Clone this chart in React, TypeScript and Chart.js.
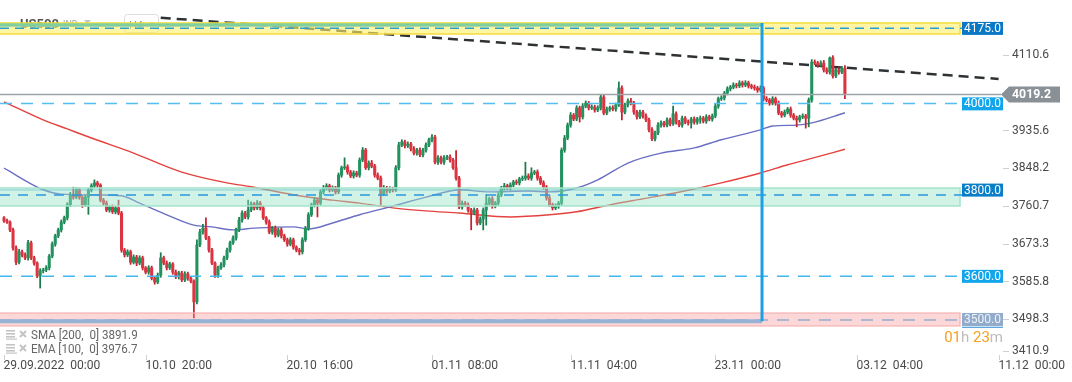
import React, { useEffect, useRef } from 'react';
import { Chart, registerables } from 'chart.js';

Chart.register(...registerables);
Chart.defaults.font.family = 'Roboto';

// ---- candle data (H4, US500) ----
const firstOpen = 3733;
const closes = [
  3726, 3723, 3705, 3663, 3630, 3654, 3647, 3640, 3675, 3640,
  3628, 3598, 3610, 3612, 3617, 3644, 3672, 3691, 3705, 3723,
  3733, 3763, 3786, 3781, 3798, 3781, 3763, 3781, 3798, 3807,
  3814, 3809, 3774, 3767, 3751, 3758, 3747, 3756, 3744, 3658,
  3647, 3654, 3630, 3642, 3628, 3640, 3617, 3607, 3617, 3593,
  3584, 3600, 3640, 3628, 3617, 3626, 3607, 3596, 3605, 3589,
  3603, 3593, 3586, 3538, 3670, 3700, 3709, 3686, 3658, 3628,
  3600, 3617, 3624, 3640, 3658, 3675, 3686, 3705, 3728, 3744,
  3735, 3751, 3765, 3756, 3767, 3756, 3733, 3723, 3700, 3709,
  3693, 3705, 3691, 3682, 3672, 3682, 3665, 3658, 3654, 3682,
  3709, 3740, 3763, 3774, 3767, 3793, 3802, 3807, 3798, 3802,
  3793, 3832, 3849, 3851, 3839, 3830, 3837, 3832, 3867, 3890,
  3849, 3860, 3853, 3832, 3825, 3788, 3802, 3795, 3800, 3798,
  3849, 3902, 3909, 3900, 3904, 3893, 3883, 3890, 3879, 3890,
  3902, 3914, 3920, 3862, 3872, 3862, 3872, 3874, 3867, 3849,
  3825, 3758, 3767, 3763, 3751, 3744, 3751, 3721, 3730, 3751,
  3767, 3777, 3760, 3767, 3786, 3802, 3807, 3802, 3809, 3816,
  3814, 3823, 3825, 3830, 3825, 3837, 3839, 3825, 3814, 3804,
  3779, 3763, 3756, 3760, 3767, 3890, 3918, 3948, 3971, 3962,
  3988, 3967, 3992, 3999, 3988, 3990, 3983, 3988, 4013, 3976,
  3985, 3988, 3985, 3995, 4034, 3978, 3995, 4004, 3999, 3978,
  3967, 3978, 3969, 3960, 3937, 3916, 3930, 3948, 3953, 3948,
  3960, 3951, 3974, 3955, 3948, 3964, 3955, 3953, 3962, 3955,
  3962, 3964, 3957, 3967, 3962, 3969, 3992, 4009, 4011, 4022,
  4032, 4036, 4041, 4039, 4046, 4041, 4046, 4039, 4036, 4034,
  4029, 4034, 4009, 4006, 3999, 4009, 3999, 3976, 3971, 3978,
  3985, 3971, 3964, 3960, 3967, 3969, 3964, 4006, 4094, 4092,
  4087, 4092, 4076, 4071, 4104, 4062, 4076, 4071, 4080, 4019.2,
];
// upper / lower wick lengths (points above the body top / below the body bottom)
const wickUp = [
  3, 4, 3, 4, 5, 6, 4, 5, 6, 4,
  4, 3, 5, 4, 5, 4, 5, 4, 4, 5,
  4, 5, 6, 18, 5, 4, 3, 5, 4, 5,
  7, 4, 3, 4, 5, 4, 5, 4, 18, 4,
  4, 5, 4, 5, 4, 5, 4, 3, 5, 4,
  3, 5, 12, 4, 5, 4, 3, 5, 4, 4,
  5, 4, 4, 3, 12, 6, 9, 24, 4, 4,
  3, 4, 5, 4, 5, 4, 5, 4, 6, 5,
  4, 23, 5, 4, 6, 4, 4, 3, 5, 4,
  5, 4, 5, 4, 4, 5, 4, 3, 4, 5,
  4, 5, 4, 6, 4, 5, 6, 5, 4, 5,
  4, 5, 4, 21, 5, 4, 5, 4, 5, 6,
  4, 5, 6, 4, 5, 5, 6, 4, 5, 4,
  5, 6, 5, 4, 5, 4, 5, 4, 5, 4,
  5, 4, 6, 4, 5, 4, 5, 4, 5, 4,
  40, 4, 5, 4, 5, 4, 5, 4, 5, 5,
  20, 4, 5, 4, 5, 4, 6, 4, 5, 4,
  5, 4, 5, 32, 5, 12, 4, 5, 4, 5,
  4, 5, 4, 5, 4, 5, 6, 5, 6, 4,
  5, 4, 6, 5, 4, 5, 4, 5, 6, 4,
  5, 4, 5, 4, 14, 5, 4, 5, 6, 4,
  4, 5, 4, 5, 4, 5, 4, 6, 5, 4,
  5, 4, 18, 5, 4, 5, 4, 5, 4, 5,
  4, 5, 4, 5, 4, 5, 5, 4, 5, 4,
  5, 4, 5, 4, 5, 4, 5, 4, 4, 5,
  4, 5, 4, 5, 4, 5, 4, 5, 4, 5,
  4, 5, 4, 5, 4, 5, 4, 5, 6, 5,
  4, 5, 6, 5, 2, 5, 4, 5, 4, 6,
];
const wickDn = [
  4, 3, 4, 5, 6, 4, 5, 4, 5, 4,
  5, 4, 28, 5, 4, 5, 4, 5, 4, 5,
  4, 5, 4, 5, 4, 5, 6, 4, 40, 5,
  4, 5, 4, 5, 4, 5, 4, 5, 4, 5,
  5, 4, 5, 4, 6, 4, 5, 4, 5, 4,
  5, 4, 5, 4, 5, 4, 5, 4, 5, 4,
  4, 5, 4, 37, 5, 4, 5, 4, 5, 4,
  5, 5, 4, 5, 4, 5, 4, 5, 4, 5,
  4, 5, 4, 5, 4, 5, 4, 5, 4, 5,
  5, 4, 5, 4, 5, 4, 5, 4, 7, 5,
  4, 5, 4, 5, 32, 4, 5, 4, 5, 4,
  5, 4, 5, 4, 5, 4, 5, 4, 5, 4,
  4, 5, 4, 5, 4, 25, 4, 5, 4, 5,
  4, 5, 4, 5, 4, 5, 4, 5, 4, 5,
  5, 4, 5, 4, 5, 4, 5, 4, 5, 4,
  5, 4, 5, 4, 5, 39, 4, 5, 4, 25,
  35, 4, 5, 4, 5, 4, 5, 4, 5, 4,
  4, 5, 4, 5, 4, 5, 4, 5, 4, 5,
  5, 4, 5, 4, 5, 4, 5, 4, 5, 4,
  4, 12, 5, 4, 5, 4, 5, 4, 5, 4,
  4, 5, 4, 5, 4, 18, 4, 5, 4, 5,
  5, 4, 5, 4, 5, 4, 5, 4, 5, 4,
  4, 5, 4, 5, 4, 5, 4, 5, 12, 5,
  5, 10, 4, 5, 4, 5, 4, 5, 4, 5,
  4, 5, 4, 5, 4, 5, 4, 5, 4, 5,
  5, 4, 5, 4, 5, 4, 5, 4, 5, 4,
  4, 5, 4, 16, 5, 4, 23, 20, 5, 4,
  5, 4, 5, 4, 5, 5, 4, 5, 4, 10,
];

// ---- indicators (sampled along the curves) ----
const smaIndex = [0, 13, 21, 29, 43, 59, 74, 82, 98, 109, 118, 129, 140, 151, 168, 181, 190, 201, 212, 223, 238, 251, 260, 267, 279];
const smaValues = [4002, 3960, 3939, 3918, 3883, 3839, 3814, 3805, 3784, 3774, 3767, 3756, 3749, 3744, 3735, 3740, 3747, 3763, 3777, 3791, 3814, 3837, 3856, 3869, 3891.9];
const emaIndex = [0, 13, 19, 32, 39, 45, 54, 63, 69, 76, 83, 96, 101, 109, 118, 129, 140, 148, 151, 161, 174, 181, 190, 197, 207, 218, 229, 238, 251, 255, 263, 268, 279];
const emaValues = [3848, 3798, 3788, 3786, 3784, 3767, 3740, 3716, 3712, 3705, 3709, 3712, 3707, 3721, 3740, 3760, 3781, 3795, 3798, 3793, 3795, 3793, 3802, 3821, 3860, 3883, 3895, 3914, 3937, 3946, 3948, 3953, 3976.7];
const trendIndex = [52, 330];
const trendValues = [4197, 4055];

// ---- axes ----
const yTickValues = [4110.6, 3935.6, 3848.2, 3760.7, 3673.3, 3585.8, 3498.3, 3410.9];
const xTickIndex = [0, 47, 94, 142, 188, 236, 283, 330];
const xTickLabels = ['29.09.2022  00:00', '10.10  20:00', '20.10  16:00', '01.11  08:00', '11.11  04:00', '23.11  00:00', '03.12  04:00', '11.12  00:00'];
const xMin = -1.327;
const xMax = 330.46;
const yMin = 3414.8;
const yMax = 4238.1;

// ---- levels / zones ----
const levelValues = [4175, 4000, 3800, 3600, 3500];
const levelLabels = ['4175.0', '4000.0', '3800.0', '3600.0', '3500.0'];
const lastPrice = 4019.2;
const lastPriceLabel = '4019.2';
const yellowZone = [4184.8, 4159.3];
const greenStrip = [4184.1, 4176.2];
const greenZone = [3802.1, 3760.4];
const greenZoneMid = 3786;
const pinkZone = [3512.2, 3482.1];
const zoneEndIndex = 317.2;
const markerIndex = 251.5;
const legendLines = ['SMA [200,  0] 3891.9', 'EMA [100,  0] 3976.7'];

function txt(ctx: any, s: string, x: number, y: number, font: string, color: string, align: any = 'left', sx = 1) {
  ctx.save();
  ctx.font = font;
  ctx.fillStyle = color;
  ctx.textBaseline = 'middle';
  ctx.textAlign = align;
  ctx.translate(x, y);
  ctx.scale(sx, 1);
  ctx.fillText(s, 0, 0);
  ctx.restore();
}

function hline(ctx: any, x1: number, x2: number, y: number, color: string, w: number, dash: number[] = []) {
  ctx.save();
  ctx.strokeStyle = color;
  ctx.lineWidth = w;
  ctx.setLineDash(dash);
  ctx.beginPath();
  ctx.moveTo(x1, y);
  ctx.lineTo(x2, y);
  ctx.stroke();
  ctx.restore();
}

const overlay = {
  id: 'overlay',
  beforeDatasetsDraw(chart: any) {
    const ctx = chart.ctx;
    ctx.save();
    txt(ctx, 'US500', 20, 25, 'bold 13px Roboto', '#555');
    txt(ctx, 'IND', 63, 25, '9px Roboto', '#a0a0a0');
    ctx.fillStyle = '#c4c4c4';
    ctx.beginPath();
    ctx.moveTo(84, 20); ctx.lineTo(91, 20); ctx.lineTo(87.5, 24); ctx.closePath(); ctx.fill();
    ctx.strokeStyle = '#dcdcdc';
    ctx.lineWidth = 1;
    ctx.beginPath();
    (ctx as any).roundRect(124.5, 14.5, 34, 18, 3);
    ctx.stroke();
    txt(ctx, 'H4', 129, 26, '11px Roboto', '#888');
    ctx.fillStyle = '#cccccc';
    ctx.beginPath();
    ctx.moveTo(149, 22); ctx.lineTo(155, 22); ctx.lineTo(152, 25); ctx.closePath(); ctx.fill();
    ctx.restore();
  },
  afterDatasetsDraw(chart: any) {
    const ctx = chart.ctx;
    const X = (v: number) => chart.scales.x.getPixelForValue(v);
    const Y = (v: number) => chart.scales.y.getPixelForValue(v);
    const left = chart.chartArea.left;
    const zEnd = X(zoneEndIndex);
    const mX = X(markerIndex);
    ctx.save();

    // yellow zone
    let t = Y(yellowZone[0]);
    let b = Y(yellowZone[1]);
    ctx.fillStyle = 'rgba(255,240,110,0.62)';
    ctx.fillRect(left, t, zEnd - left, b - t);
    ctx.strokeStyle = '#f3dc3a';
    ctx.lineWidth = 1.5;
    ctx.strokeRect(left - 2, t, zEnd - left + 2, b - t);
    // green strip
    t = Y(greenStrip[0]);
    b = Y(greenStrip[1]);
    ctx.fillStyle = '#80cf9d';
    ctx.fillRect(left, t, mX - left, b - t);

    // green zone
    t = Y(greenZone[0]);
    b = Y(greenZone[1]);
    ctx.fillStyle = 'rgba(150,228,200,0.45)';
    ctx.fillRect(left, t, zEnd - left, b - t);
    ctx.strokeStyle = '#a3e4cc';
    ctx.lineWidth = 1.5;
    ctx.strokeRect(left - 2, t, zEnd - left + 2, b - t);
    hline(ctx, left, mX, t + 2, 'rgba(90,180,200,0.6)', 1.2);

    // pink zone
    t = Y(pinkZone[0]);
    b = Y(pinkZone[1]);
    ctx.fillStyle = 'rgba(248,150,150,0.38)';
    ctx.fillRect(left, t, zEnd - left, b - t);
    ctx.strokeStyle = '#f5b3b3';
    ctx.lineWidth = 1.2;
    ctx.strokeRect(left - 2, t, zEnd - left + 2, b - t);

    // dashed levels
    hline(ctx, left, 962, Y(levelValues[0]) + 1, '#2b9fd4', 1.5, [9, 6]);
    hline(ctx, left, 962, Y(greenZoneMid), '#2a96de', 1.5, [10, 8]);
    hline(ctx, left, 962, Y(levelValues[1]) + 0.8, '#52bff0', 1.5, [12, 9]);
    hline(ctx, left, 962, Y(levelValues[3]) + 1, '#45b6ee', 1.5, [12, 9]);
    hline(ctx, left, 962, Y(levelValues[4]) + 1.8, '#93aed0', 1.5, [12, 9]);
    hline(ctx, left, mX, Y(levelValues[4]) + 3, '#97b3d4', 4);

    // last price line
    hline(ctx, left, 1001, Y(lastPrice), '#9ca2a6', 1.5);

    // vertical marker
    ctx.strokeStyle = '#1da1e6';
    ctx.lineWidth = 3;
    ctx.beginPath();
    ctx.moveTo(mX, Y(yellowZone[0]));
    ctx.lineTo(mX, Y(levelValues[4]) + 3);
    ctx.stroke();

    // level label boxes
    const boxColors = ['#0b78c6', '#12a5ec', '#0a7ec6', '#12a5ec', '#92abca'];
    const textColors = ['#ffffff', '#ffffff', '#ffffff', '#ffffff', '#eef3f8'];
    levelValues.forEach((v, i) => {
      const cy = Y(v) + 1.2;
      ctx.fillStyle = boxColors[i];
      ctx.fillRect(962, cy - 6.5, 41, 13);
      txt(ctx, levelLabels[i], 982.5, cy + 0.5, '12px Roboto', textColors[i], 'center');
    });
    hline(ctx, 962, 1003, Y(levelValues[4]) + 9, '#2a8ad6', 1);

    // y ticks
    yTickValues.forEach((v) => {
      const y = Math.min(Y(v), 351);
      hline(ctx, 1003, 1009, Math.round(y) + 0.5, '#cfcfcf', 1);
      txt(ctx, v.toFixed(1), 1012, y, '13px Roboto', '#4a4a4a', 'left', 0.93);
    });

    // x ticks
    xTickIndex.forEach((idx, i) => {
      const x = Math.round(X(idx)) + 0.5;
      ctx.strokeStyle = '#cfcfcf';
      ctx.lineWidth = 1;
      ctx.beginPath();
      ctx.moveTo(x, 355);
      ctx.lineTo(x, 360);
      ctx.stroke();
      txt(ctx, xTickLabels[i], x - 1, 366, '13px Roboto', '#4a4a4a', 'left', 0.93);
    });

    // legend
    legendLines.forEach((s, i) => {
      const y = 335 + i * 14;
      ctx.fillStyle = '#c4c4c4';
      ctx.fillRect(6, y - 5, 9, 1.6);
      ctx.fillRect(6, y - 2, 9, 1.6);
      ctx.fillRect(6, y + 1, 9, 1.6);
      ctx.fillRect(6, y + 3.5, 11, 1.2);
      ctx.strokeStyle = '#c4c4c4';
      ctx.lineWidth = 2;
      ctx.beginPath();
      ctx.moveTo(20, y - 4); ctx.lineTo(26, y + 2);
      ctx.moveTo(26, y - 4); ctx.lineTo(20, y + 2);
      ctx.stroke();
      txt(ctx, s, 31, y + 1, '12px Roboto', '#666', 'left', 0.97);
    });

    // countdown
    const parts: [string, string][] = [['01', '#f5a11c'], ['h ', '#bdbdbd'], ['23', '#f5a11c'], ['m', '#bdbdbd']];
    ctx.font = '15px Roboto';
    const total = parts.reduce((a, p) => a + ctx.measureText(p[0]).width, 0);
    let cx = 1003 - total;
    parts.forEach((p) => {
      txt(ctx, p[0], cx, 338, '15px Roboto', p[1]);
      ctx.font = '15px Roboto';
      cx += ctx.measureText(p[0]).width;
    });

    // current price label
    const py = Y(lastPrice);
    ctx.fillStyle = '#8a9196';
    ctx.beginPath();
    ctx.moveTo(1001, py);
    ctx.lineTo(1009, py - 8);
    ctx.lineTo(1060, py - 8);
    ctx.lineTo(1060, py + 8);
    ctx.lineTo(1009, py + 8);
    ctx.closePath();
    ctx.fill();
    txt(ctx, lastPriceLabel, 1012, py + 0.5, 'bold 13px Roboto', '#ffffff', 'left', 0.95);

    ctx.restore();
  },
};

export default function App() {
  const ref = useRef<HTMLCanvasElement | null>(null);
  useEffect(() => {
    const canvas = ref.current;
    if (!canvas) return;
    const opens = closes.map((c, i) => (i === 0 ? firstOpen : closes[i - 1]));
    const bodies = closes.map((c, i) => {
      const o = opens[i];
      const lo = Math.min(o, c);
      const hi = Math.max(o, c);
      return { x: i, y: hi - lo < 1.2 ? [lo - 0.6, hi + 0.6] : [lo, hi] };
    });
    const wicks = closes.map((c, i) => {
      const o = opens[i];
      return { x: i, y: [Math.min(o, c) - wickDn[i], Math.max(o, c) + wickUp[i]] };
    });
    const up = closes.map((c, i) => c >= opens[i]);
    const chart = new Chart(canvas, {
      type: 'bar',
      data: {
        datasets: [
          {
            type: 'bar',
            label: 'body',
            data: bodies as any,
            backgroundColor: up.map((u) => (u ? '#22935f' : '#dc3441')),
            borderWidth: 0,
            barThickness: 2.4,
            grouped: false,
            order: 1,
          } as any,
          {
            type: 'bar',
            label: 'wick',
            data: wicks as any,
            backgroundColor: up.map((u) => (u ? '#1b7a4e' : '#c5222f')),
            borderWidth: 0,
            barThickness: 1.1,
            grouped: false,
            order: 2,
          } as any,
          {
            type: 'line',
            label: 'EMA 100',
            data: emaIndex.map((x, i) => ({ x, y: emaValues[i] })),
            borderColor: '#6a6ec4',
            borderWidth: 1.4,
            pointRadius: 0,
            cubicInterpolationMode: 'monotone',
            order: 3,
          } as any,
          {
            type: 'line',
            label: 'SMA 200',
            data: smaIndex.map((x, i) => ({ x, y: smaValues[i] })),
            borderColor: '#e4423f',
            borderWidth: 1.4,
            pointRadius: 0,
            cubicInterpolationMode: 'monotone',
            order: 4,
          } as any,
          {
            type: 'line',
            label: 'trend',
            data: trendIndex.map((x, i) => ({ x, y: trendValues[i] })),
            borderColor: '#2e3235',
            borderWidth: 2.5,
            borderDash: [10, 6],
            pointRadius: 0,
            order: 5,
          } as any,
        ],
      },
      options: {
        responsive: false,
        animation: false,
        devicePixelRatio: 1,
        events: [],
        layout: { padding: { left: 0, right: 72, top: 0, bottom: 27 } },
        scales: {
          x: { type: 'linear', min: xMin, max: xMax, display: false, offset: false, grid: { display: false } },
          y: { type: 'linear', min: yMin, max: yMax, display: false },
        },
        plugins: { legend: { display: false }, tooltip: { enabled: false } },
      } as any,
      plugins: [overlay as any],
    });
    return () => chart.destroy();
  }, []);
  return (
    <div style={{ position: 'fixed', left: 0, top: 0, width: 1072, height: 382, background: '#fff' }}>
      <canvas ref={ref} width={1072} height={382} style={{ width: 1072, height: 382, display: 'block' }} />
    </div>
  );
}
